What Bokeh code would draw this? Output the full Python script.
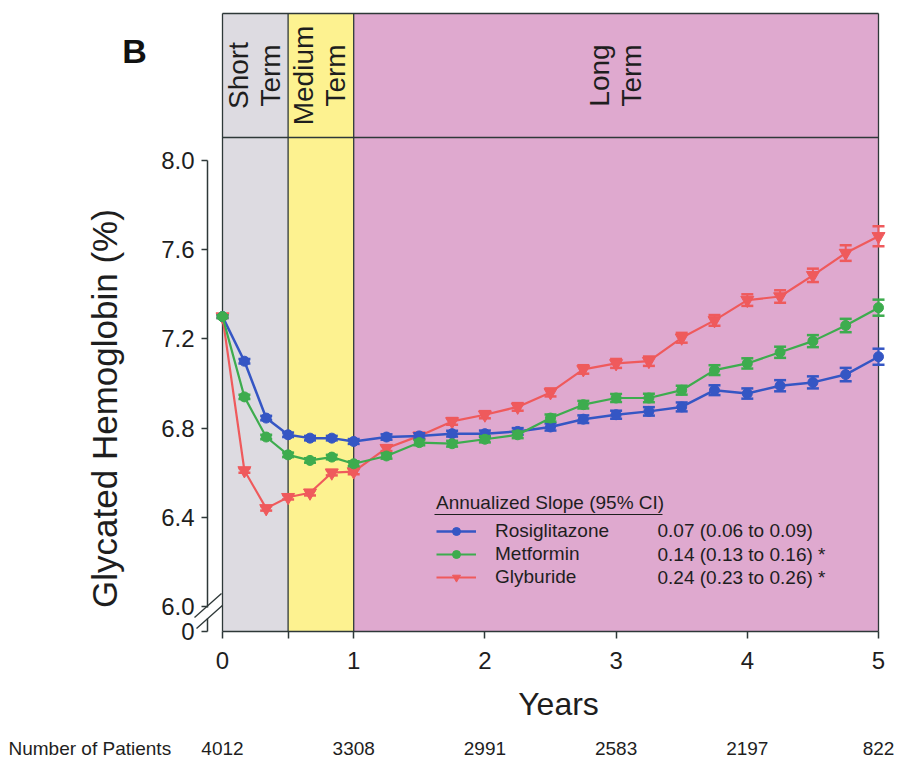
import math
from bokeh.plotting import figure
from bokeh.models import (Range1d, FixedTicker, PrintfTickFormatter, LinearAxis,
                          Legend, LegendItem)
from bokeh.core.properties import value
from bokeh.embed import file_html
from bokeh.resources import INLINE

# ---------------- data ----------------
years = [0.0, 0.167, 0.333, 0.5, 0.667, 0.833, 1.0, 1.25, 1.5, 1.75, 2.0, 2.25,
         2.5, 2.75, 3.0, 3.25, 3.5, 3.75, 4.0, 4.25, 4.5, 4.75, 5.0]

rosiglitazone = [7.30, 7.10, 6.845, 6.77, 6.755, 6.755, 6.74, 6.76, 6.765, 6.775, 6.775, 6.785,
                 6.805, 6.84, 6.86, 6.875, 6.895, 6.97, 6.955, 6.99, 7.005, 7.04, 7.12]
rosiglitazone_err = [0.006, 0.01, 0.01, 0.01, 0.01, 0.01, 0.011, 0.012, 0.012, 0.013, 0.014, 0.015,
                     0.016, 0.017, 0.018, 0.019, 0.02, 0.022, 0.023, 0.025, 0.027, 0.03, 0.036]

metformin = [7.30, 6.94, 6.76, 6.68, 6.655, 6.67, 6.64, 6.675, 6.735, 6.73, 6.75, 6.77,
             6.845, 6.905, 6.935, 6.935, 6.97, 7.06, 7.09, 7.14, 7.19, 7.26, 7.34]
metformin_err = [0.006, 0.01, 0.01, 0.01, 0.01, 0.01, 0.011, 0.012, 0.012, 0.013, 0.014, 0.015,
                 0.016, 0.017, 0.018, 0.019, 0.02, 0.022, 0.023, 0.025, 0.027, 0.03, 0.036]

glyburide = [7.30, 6.61, 6.44, 6.49, 6.51, 6.60, 6.605, 6.71, 6.765, 6.83, 6.86, 6.895,
             6.96, 7.063, 7.09, 7.10, 7.205, 7.283, 7.374, 7.39, 7.485, 7.585, 7.66]
glyburide_err = [0.006, 0.01, 0.01, 0.01, 0.012, 0.012, 0.012, 0.013, 0.014, 0.015, 0.016, 0.017,
                 0.018, 0.019, 0.02, 0.021, 0.022, 0.024, 0.026, 0.028, 0.03, 0.035, 0.045]

drug_names = ["Rosiglitazone", "Metformin", "Glyburide"]
slopes = ["0.07 (0.06 to 0.09)", "0.14 (0.13 to 0.16) *", "0.24 (0.23 to 0.26) *"]

region_line1 = ["Short", "Medium", "Long"]
region_line2 = ["Term", "Term", "Term"]
region_start = [0.0, 0.5, 1.0]
region_end = [0.5, 1.0, 5.0]

patient_years = [0, 1, 2, 3, 4, 5]
patient_counts = ["4012", "3308", "2991", "2583", "2197", "822"]

y_ticks = [6.0, 6.4, 6.8, 7.2, 7.6, 8.0]
x_ticks = [0, 1, 2, 3, 4, 5]

# ---------------- styles / layout ----------------
FONT = "Liberation Sans"
TXT = "#1e1e1e"
BLUE = "#3556c4"
GREEN = "#3dac4e"
RED = "#ef5a5c"
REGION_COLORS = ["#dddbe1", "#fdf290", "#dfa9cf"]
FRAME_LINE = "#2e3838"

W, H = 900, 760
PX_X = 131.2   # pixels per year
PX_Y = 223.0   # pixels per % HbA1c
X0_PAGE = 222  # pixel x of year 0
Y8_PAGE = 160  # pixel y of 8.0 %


def xp(px):
    return (px - X0_PAGE) / PX_X


def yp(py):
    return 8.0 - (py - Y8_PAGE) / PX_Y


AXIS_X = xp(207)      # y-axis position
Y_ZERO = yp(631)      # the broken "0" of the y axis / x-axis level
y_header = yp(137)
y_boxtop = yp(13)

p = figure(width=W, height=H, output_backend="svg", toolbar_location=None,
           x_range=Range1d(xp(0), xp(W)), y_range=Range1d(yp(H), yp(0)),
           min_border=0, background_fill_color="white", border_fill_color="white")
p.outline_line_color = None
p.grid.visible = False

# ---------- axes ----------
xa = p.xaxis[0]
xa.fixed_location = Y_ZERO
xa.ticker = FixedTicker(ticks=x_ticks, minor_ticks=[0.5])
xa.bounds = (0, 5)
xa.axis_line_color = FRAME_LINE
xa.axis_line_width = 1.5
xa.major_tick_line_color = FRAME_LINE
xa.minor_tick_line_color = FRAME_LINE
xa.major_tick_line_width = 1.5
xa.minor_tick_line_width = 1.5
xa.major_tick_in = 0
xa.major_tick_out = 7
xa.minor_tick_in = 0
xa.minor_tick_out = 7
xa.major_label_text_font = FONT
xa.major_label_text_font_size = "24px"
xa.major_label_text_color = TXT
xa.major_label_standoff = 13


def style_y(ax):
    ax.fixed_location = AXIS_X
    ax.axis_line_color = FRAME_LINE
    ax.axis_line_width = 1.5
    ax.major_tick_line_color = FRAME_LINE
    ax.major_tick_line_width = 1.5
    ax.major_tick_in = 0
    ax.major_tick_out = 6
    ax.minor_tick_line_color = None
    ax.major_label_text_font = FONT
    ax.major_label_text_font_size = "24px"
    ax.major_label_text_color = TXT
    ax.major_label_standoff = 7


ya = p.yaxis[0]
ya.ticker = FixedTicker(ticks=y_ticks)
ya.formatter = PrintfTickFormatter(format="%.1f")
ya.bounds = (yp(607), 8.0)
style_y(ya)

# lower stub of the broken axis, carrying the "0"
ya0 = LinearAxis(ticker=FixedTicker(ticks=[Y_ZERO]), bounds=(Y_ZERO, yp(618)),
                 major_label_overrides={Y_ZERO: "0"})
style_y(ya0)
p.add_layout(ya0, "left")

# break marks
p.segment(x0=[xp(194), xp(196)], y0=[yp(617), yp(628)],
          x1=[xp(221), xp(223)], y1=[yp(593), yp(604)],
          line_color=FRAME_LINE, line_width=1.4)

# ---------- background regions ----------
p.quad(left=region_start, right=region_end, bottom=Y_ZERO, top=y_boxtop,
       fill_color=REGION_COLORS, line_color=None)
bx = [0.0, 5.0] + region_start[1:]
p.segment(x0=bx, y0=Y_ZERO, x1=bx, y1=y_boxtop, line_color=FRAME_LINE, line_width=1.3)
p.segment(x0=0.0, y0=[y_header, y_boxtop], x1=5.0, y1=[y_header, y_boxtop],
          line_color=FRAME_LINE, line_width=1.3)

region_mid = [(a + b) / 2 for a, b in zip(region_start, region_end)]
for words, dx in ((region_line1, -17), (region_line2, 15)):
    p.text(x=region_mid, y=yp(75), text=words, angle=math.pi / 2, x_offset=dx,
           text_align="center", text_baseline="middle", text_font=value(FONT),
           text_font_size="28px", text_color=TXT)


# ---------- series ----------
def series(vals, errs, color, marker, msize, lw):
    lo = [v - e for v, e in zip(vals, errs)]
    hi = [v + e for v, e in zip(vals, errs)]
    ln = p.line(years, vals, line_color=color, line_width=lw)
    p.segment(x0=years, y0=lo, x1=years, y1=hi, line_color=color, line_width=2)
    p.scatter(years, lo, marker="dash", size=12, line_color=color, line_width=2.5)
    p.scatter(years, hi, marker="dash", size=12, line_color=color, line_width=2.5)
    pts = p.scatter(years, vals, marker=marker, size=msize, fill_color=color,
                    line_color=color)
    return ln, pts


red_r = series(glyburide, glyburide_err, RED, "inverted_triangle", 13, 2.2)
blue_r = series(rosiglitazone, rosiglitazone_err, BLUE, "circle", 10, 2.5)
green_r = series(metformin, metformin_err, GREEN, "circle", 10, 2.2)

# ---------- legend ----------
items = [LegendItem(label=n, renderers=list(r))
         for n, r in zip(drug_names, [blue_r, green_r, red_r])]
ROW0, ROW_H = 530, 23.5
legend = Legend(items=items, location=(434, H - 590),
                title="Annualized Slope (95% CI)",
                title_text_font=FONT, title_text_font_size="19px",
                title_text_font_style="normal", title_text_color=TXT,
                title_standoff=6,
                label_text_font=FONT, label_text_font_size="19px",
                label_text_color=TXT,
                glyph_width=40, glyph_height=20, label_height=20,
                label_standoff=19, spacing=1, padding=2, margin=0,
                background_fill_alpha=0, border_line_alpha=0)
p.add_layout(legend)
p.segment(x0=xp(434), y0=yp(514), x1=xp(662), y1=yp(514), line_color=TXT,
          line_width=1.2)
p.text(x=xp(657), y=[yp(ROW0 + i * ROW_H) for i in range(len(slopes))], text=slopes,
       text_align="left", text_baseline="middle", text_font=value(FONT),
       text_font_size="19px", text_color=TXT)

# ---------- free texts ----------
p.text(x=xp(134), y=yp(50), text=["B"], text_font=value(FONT), text_font_style="bold",
       text_font_size="34px", text_align="center", text_baseline="middle",
       text_color="#111")
p.text(x=xp(104), y=yp(408), text=["Glycated Hemoglobin (%)"], angle=math.pi / 2,
       text_font=value(FONT), text_font_size="35px", text_align="center",
       text_baseline="middle", text_color=TXT)
p.text(x=xp(558), y=yp(703), text=["Years"], text_font=value(FONT),
       text_font_size="32px", text_align="center", text_baseline="middle",
       text_color=TXT)

# ---------- number of patients row ----------
p.text(x=patient_years, y=yp(748), text=patient_counts, text_align="center",
       text_baseline="middle", text_font=value(FONT), text_font_size="19px",
       text_color=TXT)
p.text(x=xp(8), y=yp(748), text=["Number of Patients"], text_align="left",
       text_baseline="middle", text_font=value(FONT), text_font_size="19px",
       text_color=TXT)

open("out.html", "w").write(file_html(p, INLINE))
